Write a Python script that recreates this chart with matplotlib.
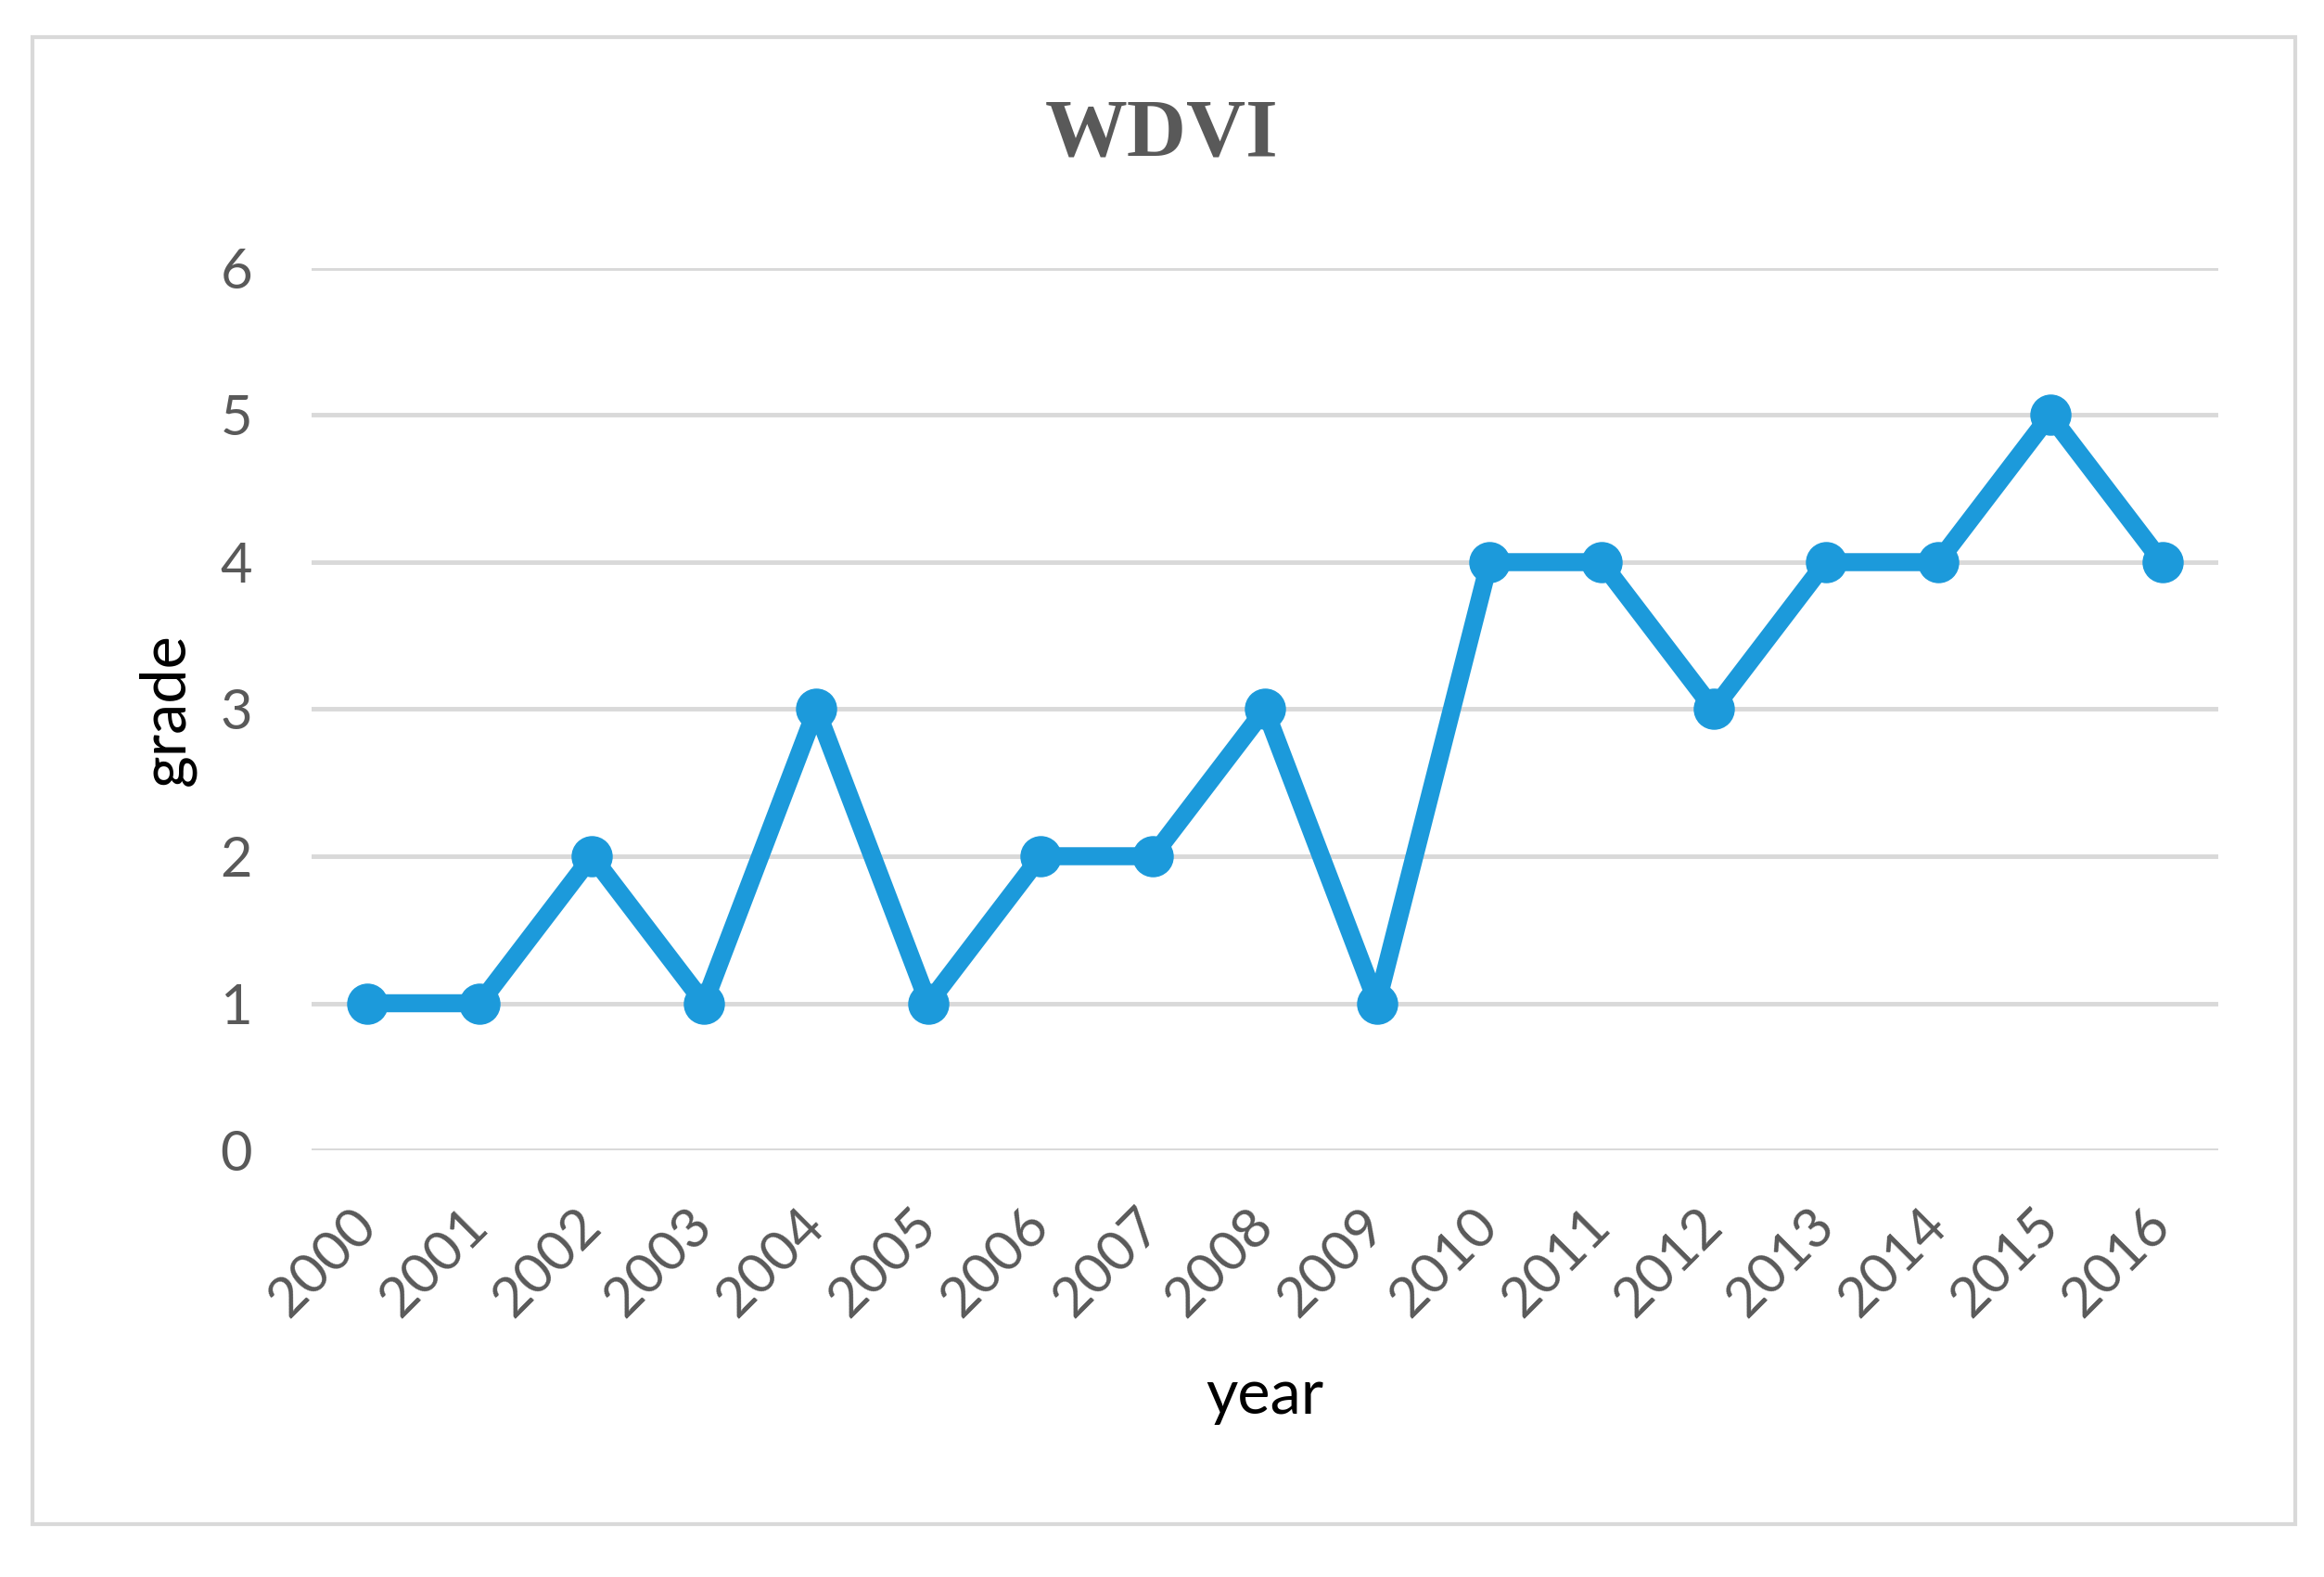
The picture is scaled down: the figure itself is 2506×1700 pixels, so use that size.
import matplotlib
matplotlib.use("Agg")
import matplotlib.pyplot as plt
from matplotlib.patches import Rectangle

# data
years = ["2000", "2001", "2002", "2003", "2004", "2005", "2006", "2007", "2008",
         "2009", "2010", "2011", "2012", "2013", "2014", "2015", "2016"]
grades = [1, 1, 2, 1, 3, 1, 2, 2, 3, 1, 4, 4, 3, 4, 4, 5, 4]
y_ticks = [0, 1, 2, 3, 4, 5, 6]

W, H = 2506, 1700
fig = plt.figure(figsize=(W / 100, H / 100), dpi=100)
fig.patch.set_facecolor("white")

# outer chart border
fig.patches.append(Rectangle((35 / W, 1 - 1643 / H), (2475 - 35) / W, (1643 - 40) / H,
                             transform=fig.transFigure, fill=False,
                             edgecolor="#d9d9d9", linewidth=3))

ax = fig.add_axes([336 / W, 1 - 1240 / H, (2392 - 336) / W, (1240 - 289) / H])

x = list(range(len(years)))
ax.plot(x, grades, color="#1c9adb", linewidth=14, marker="o", markersize=31,
        solid_joinstyle="round", solid_capstyle="round", zorder=3, clip_on=False)

ax.set_xlim(-0.5, len(years) - 0.5)
ax.set_ylim(0, 6)
ax.set_yticks(y_ticks)
ax.set_xticks(x)
ax.set_xticklabels(years)
ax.grid(axis="y", color="#d9d9d9", linewidth=3.5)
ax.set_axisbelow(True)
for s in ax.spines.values():
    s.set_visible(False)

ax.tick_params(axis="both", length=0, labelcolor="#595959", labelsize=43)
ax.tick_params(axis="y", pad=46)
ax.tick_params(axis="x", pad=52)
for lbl in ax.get_yticklabels():
    lbl.set_family("Lato")
for lbl in ax.get_xticklabels():
    lbl.set_family("Lato")
    lbl.set_rotation(45)
    lbl.set_ha("right")
    lbl.set_va("center")
    lbl.set_rotation_mode("anchor")

ax.set_ylabel("grade", fontsize=48, family="Lato", color="black")
ax.yaxis.set_label_coords((180 - 336) / (2392 - 336), 0.5)
ax.yaxis.label.set_va("center")
ax.set_xlabel("year", fontsize=48, family="Lato", color="black")
ax.xaxis.set_label_coords(0.5, -(1505 - 1240) / (1240 - 289))
ax.xaxis.label.set_va("center")

fig.text(0.5, 1 - 146 / H, "WDVI", ha="center", va="center", fontsize=64,
         fontweight="bold", family="Liberation Serif", color="#595959")

plt.savefig("out.png", dpi=100)
